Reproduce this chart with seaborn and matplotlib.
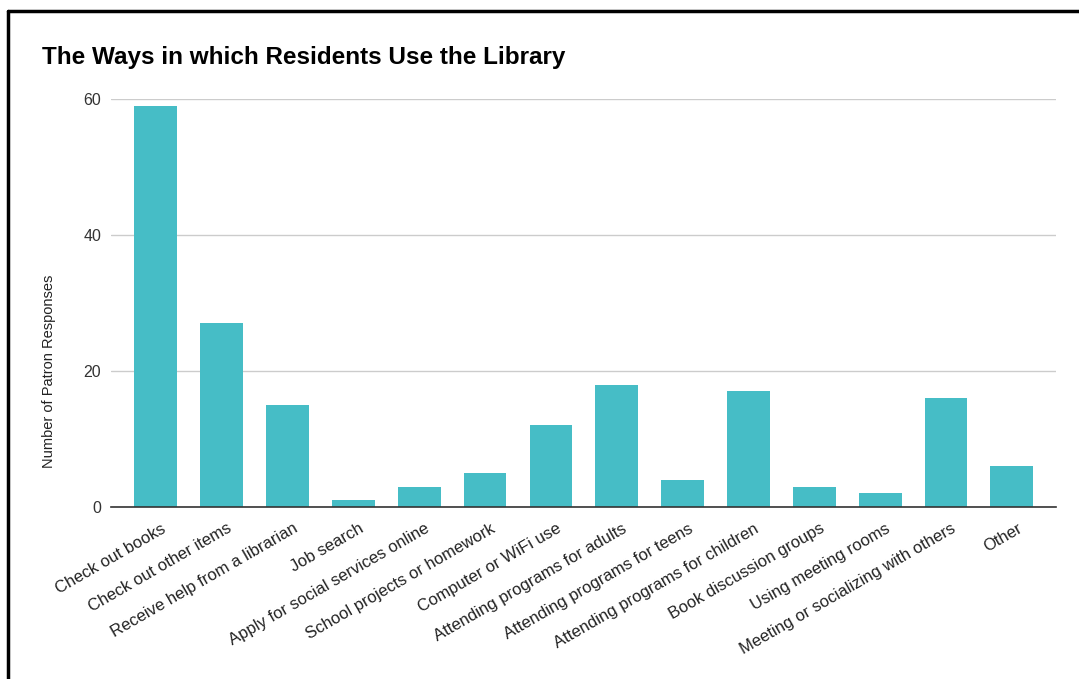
import matplotlib
matplotlib.use("Agg")
import matplotlib.pyplot as plt
from matplotlib.lines import Line2D
import matplotlib.transforms as mtransforms
import seaborn as sns
import pandas as pd

categories = [
    "Check out books", "Check out other items", "Receive help from a librarian",
    "Job search", "Apply for social services online", "School projects or homework",
    "Computer or WiFi use", "Attending programs for adults", "Attending programs for teens",
    "Attending programs for children", "Book discussion groups", "Using meeting rooms",
    "Meeting or socializing with others", "Other",
]
responses = [59, 27, 15, 1, 3, 5, 12, 18, 4, 17, 3, 2, 16, 6]
yticks = [0, 20, 40, 60]

sns.set_theme(style="white")
plt.rcParams["font.family"] = ["Liberation Sans", "DejaVu Sans"]

df = pd.DataFrame({"category": categories, "responses": responses})

fig = plt.figure(figsize=(10.79, 6.79), dpi=100)
ax = fig.add_axes([0.1029, 0.2533, 0.8758, 0.6009])

sns.barplot(data=df, x="category", y="responses", color="#46bdc6",
            saturation=1, width=0.65, ax=ax, edgecolor="none")

ax.set_xlim(-0.68, 13.67)
ax.set_ylim(0, 60)
ax.set_yticks(yticks)
ax.set_yticklabels([str(v) for v in yticks], fontsize=11.5, color="#333333")
ax.yaxis.grid(True, color="#cccccc", linewidth=1)
ax.set_axisbelow(True)
ax.tick_params(axis="y", length=0, pad=7)
ax.tick_params(axis="x", length=0, pad=10)
ax.set_xticks(range(len(categories)))
ax.set_xticklabels(categories, rotation=30, ha="right", rotation_mode="anchor",
                   fontsize=12, color="#222222")
offset = mtransforms.ScaledTranslation(5 / 100, 0, fig.dpi_scale_trans)
for lab in ax.get_xticklabels():
    lab.set_transform(lab.get_transform() + offset)
for s in ["top", "right", "left"]:
    ax.spines[s].set_visible(False)
ax.spines["bottom"].set_color("#333333")
ax.spines["bottom"].set_linewidth(1.2)
ax.set_xlabel("")
ax.set_ylabel("Number of Patron Responses", fontsize=10.5, color="#222222")
ax.yaxis.set_label_coords(-0.058, 0.333)

fig.text(0.039, 0.916, "The Ways in which Residents Use the Library",
         fontsize=17.5, fontweight="bold", color="#000000", va="center", ha="left")

fig.add_artist(Line2D([0.0075, 1.0], [0.9845, 0.9845], color="black", linewidth=2.5,
                      transform=fig.transFigure))
fig.add_artist(Line2D([0.0075, 0.0075], [0.0, 0.9845], color="black", linewidth=2.5,
                      transform=fig.transFigure))

fig.savefig("out.png", dpi=100)
